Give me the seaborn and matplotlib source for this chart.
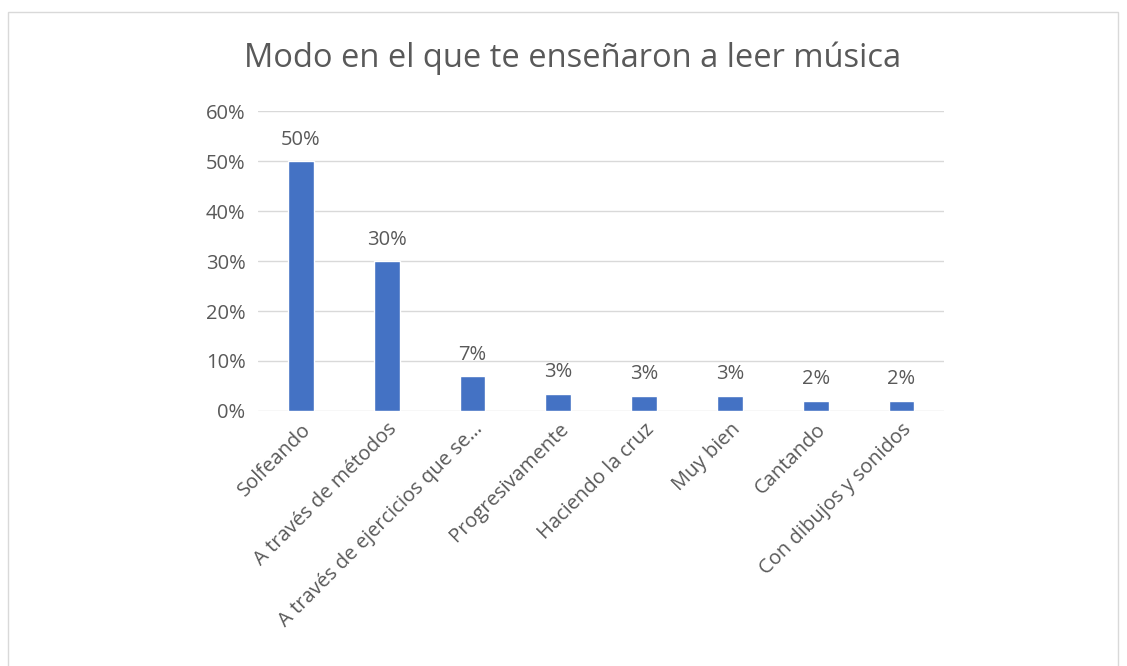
import matplotlib.pyplot as plt
import matplotlib.patches as mpatches
import seaborn as sns
import pandas as pd

sns.set_style("whitegrid")
plt.rcParams['font.family'] = ['Open Sans', 'DejaVu Sans']

categorias = ["Solfeando", "A través de métodos", "A través de ejercicios que se…",
              "Progresivamente", "Haciendo la cruz", "Muy bien", "Cantando",
              "Con dibujos y sonidos"]
porcentajes = [50.0, 30.0, 6.9, 3.4, 3.0, 3.0, 2.0, 2.0]
etiquetas = ["50%", "30%", "7%", "3%", "3%", "3%", "2%", "2%"]

df = pd.DataFrame({"modo": categorias, "pct": porcentajes})

txt = "#595959"
fig = plt.figure(figsize=(11.27, 6.66), dpi=100)
ax = fig.add_axes([0.229, 0.383, 0.609, 0.45])
sns.barplot(data=df, x="modo", y="pct", ax=ax, color="#4472C4", width=0.3, saturation=1)

for i, (v, lab) in enumerate(zip(porcentajes, etiquetas)):
    ax.text(i, v + 2.3, lab, ha="center", va="bottom", fontsize=14.5, color=txt)

ax.set_ylim(0, 60)
ax.set_xlim(-0.5, len(categorias) - 0.5)
ax.set_yticks(range(0, 61, 10))
ax.set_yticklabels([f"{t}%" for t in range(0, 61, 10)])
ax.grid(axis="y", color="#D9D9D9", linewidth=1)
ax.grid(axis="x", visible=False)
for s in ax.spines.values():
    s.set_visible(False)
ax.tick_params(axis="both", length=0, labelsize=14.5, labelcolor=txt, pad=9)
ax.tick_params(axis="x", pad=6)
plt.setp(ax.get_xticklabels(), rotation=45, ha="right", rotation_mode="anchor")
ax.set_xlabel("")
ax.set_ylabel("")

fig.text(0.508, 0.912, "Modo en el que te enseñaron a leer música", ha="center", va="center",
         fontsize=23.5, color=txt)
fig.patches.append(mpatches.Rectangle((8 / 1127, -0.01), 1110 / 1127, 1 - 12 / 666 + 0.01,
                                      transform=fig.transFigure, fill=False,
                                      edgecolor="#D9D9D9", linewidth=1))

fig.savefig("out.png", dpi=100)
